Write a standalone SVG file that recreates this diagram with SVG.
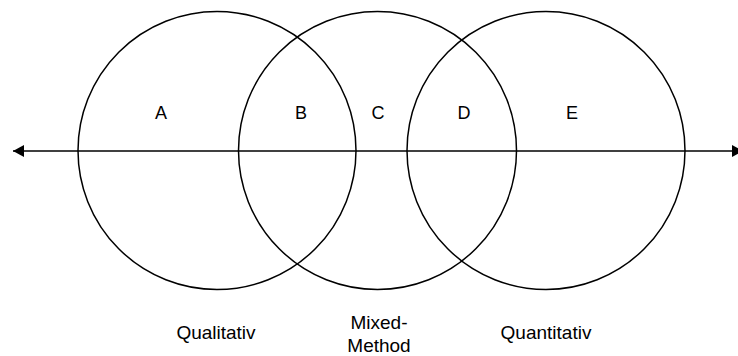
<svg xmlns="http://www.w3.org/2000/svg" width="738" height="356" viewBox="0 0 738 356">
<style>
.c{fill:none;stroke:#000;stroke-width:1.5}
.t{font-family:"Liberation Sans",Arial,sans-serif;font-size:18px;fill:#000;text-anchor:middle}
.l{font-family:"Liberation Sans",Arial,sans-serif;font-size:19px;fill:#000;text-anchor:middle}
</style>
<defs>
<marker id="ah" viewBox="0 0 11 12" refX="11" refY="6" markerWidth="11" markerHeight="12" markerUnits="userSpaceOnUse" orient="auto-start-reverse">
<path d="M0,0 L11,6 L0,12 Z" fill="#000"/>
</marker>
</defs>
<g id="connectors">
<line x1="13" y1="151" x2="743" y2="151" stroke="#000" stroke-width="1.5" marker-start="url(#ah)" marker-end="url(#ah)"/>
</g>
<g id="qualitativ"><circle class="c" cx="217" cy="150.5" r="139"/></g>
<g id="mixed"><circle class="c" cx="377.5" cy="150.5" r="139"/></g>
<g id="quantitativ"><circle class="c" cx="546" cy="150.5" r="139"/></g>
<g id="labels">
<text class="t" x="161" y="119">A</text>
<text class="t" x="301" y="119">B</text>
<text class="t" x="378" y="119">C</text>
<text class="t" x="464" y="119">D</text>
<text class="t" x="572" y="119">E</text>
<text class="l" x="216" y="339">Qualitativ</text>
<text class="l" x="379" y="329">Mixed-</text>
<text class="l" x="379" y="352">Method</text>
<text class="l" x="546" y="339">Quantitativ</text>
</g>
</svg>
